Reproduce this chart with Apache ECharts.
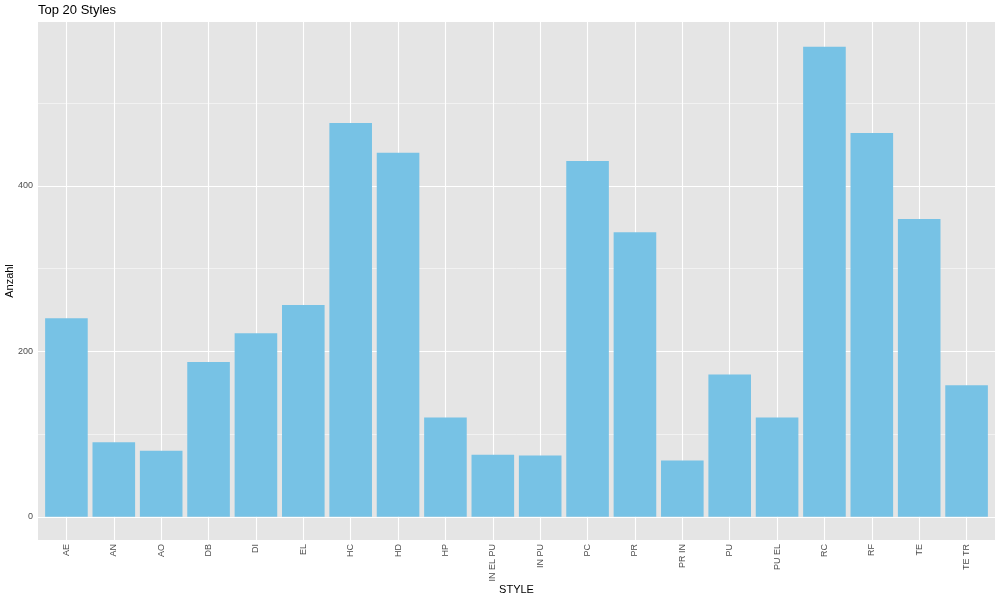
<!DOCTYPE html>
<html>
<head>
<meta charset="utf-8">
<script src="https://cdn.jsdelivr.net/npm/echarts@6/dist/echarts.min.js"></script>
<style>html,body{margin:0;padding:0;background:#fff}#c{width:1000px;height:600px}</style>
</head>
<body>
<div id="c"></div>
<script>
const categories = ["AE","AN","AO","DB","DI","EL","HC","HD","HP","IN EL PU","IN PU","PC","PR","PR IN","PU","PU EL","RC","RF","TE","TE TR"];
const counts = [240,90,80,187,222,256,476,440,120,75,74,430,344,68,172,120,568,464,360,159];
const yMajorTicks = [0,200,400];
const yMinorTicks = [100,300,500];

const font = 'Liberation Sans, Arial, sans-serif';
const idx = categories.map((c,i)=>i);
const chart = echarts.init(document.getElementById('c'), null, {renderer:'canvas'});
const gridLines = [];
yMajorTicks.forEach(v=>gridLines.push({yAxis:v, lineStyle:{width:1.1}}));
yMinorTicks.forEach(v=>gridLines.push({yAxis:v, lineStyle:{width:0.5}}));
idx.forEach(v=>gridLines.push({xAxis:v, lineStyle:{width:1.1}}));

chart.setOption({
  animation:false,
  backgroundColor:'#ffffff',
  title:{text:'Top 20 Styles', left:38, top:4, padding:0, textStyle:{fontFamily:font, fontSize:13, fontWeight:'normal', color:'#000'}},
  grid:{left:38, right:5, top:22, bottom:60, show:true, backgroundColor:'#E5E5E5', borderWidth:0,
    containLabel:false, outerBoundsMode:'none'},
  xAxis:{
    type:'value', min:-0.6, max:19.6,
    name:'STYLE', nameLocation:'middle', nameGap:44, nameMoveOverlap:false,
    nameTextStyle:{fontFamily:font, fontSize:11, color:'#000'},
    axisLine:{show:false},
    splitLine:{show:false},
    axisTick:{show:true, customValues:idx, length:3, lineStyle:{color:'#333'}},
    axisLabel:{customValues:idx, rotate:90, fontSize:9, fontFamily:font, color:'#4D4D4D', margin:4,
      formatter:(v)=>categories[Math.round(v)]}
  },
  yAxis:{
    type:'value', min:-28, max:598,
    name:'Anzahl', nameLocation:'middle', nameGap:23, nameRotate:90, nameMoveOverlap:false,
    nameTextStyle:{fontFamily:font, fontSize:11, color:'#000'},
    axisLine:{show:false},
    splitLine:{show:false},
    axisTick:{show:true, customValues:yMajorTicks, length:3, lineStyle:{color:'#333'}},
    axisLabel:{customValues:yMajorTicks, fontSize:9, fontFamily:font, color:'#4D4D4D', margin:5}
  },
  series:[
    {type:'scatter', data:[], z:1, silent:true,
      markLine:{silent:true, z:1, symbol:'none', label:{show:false}, animation:false,
        lineStyle:{color:'#ffffff', type:'solid'}, data:gridLines}},
    {type:'bar', z:3, barWidth:42.6, itemStyle:{color:'#77C2E5'},
      data:counts.map((v,i)=>[i,v])}
  ]
});
</script>
</body>
</html>
